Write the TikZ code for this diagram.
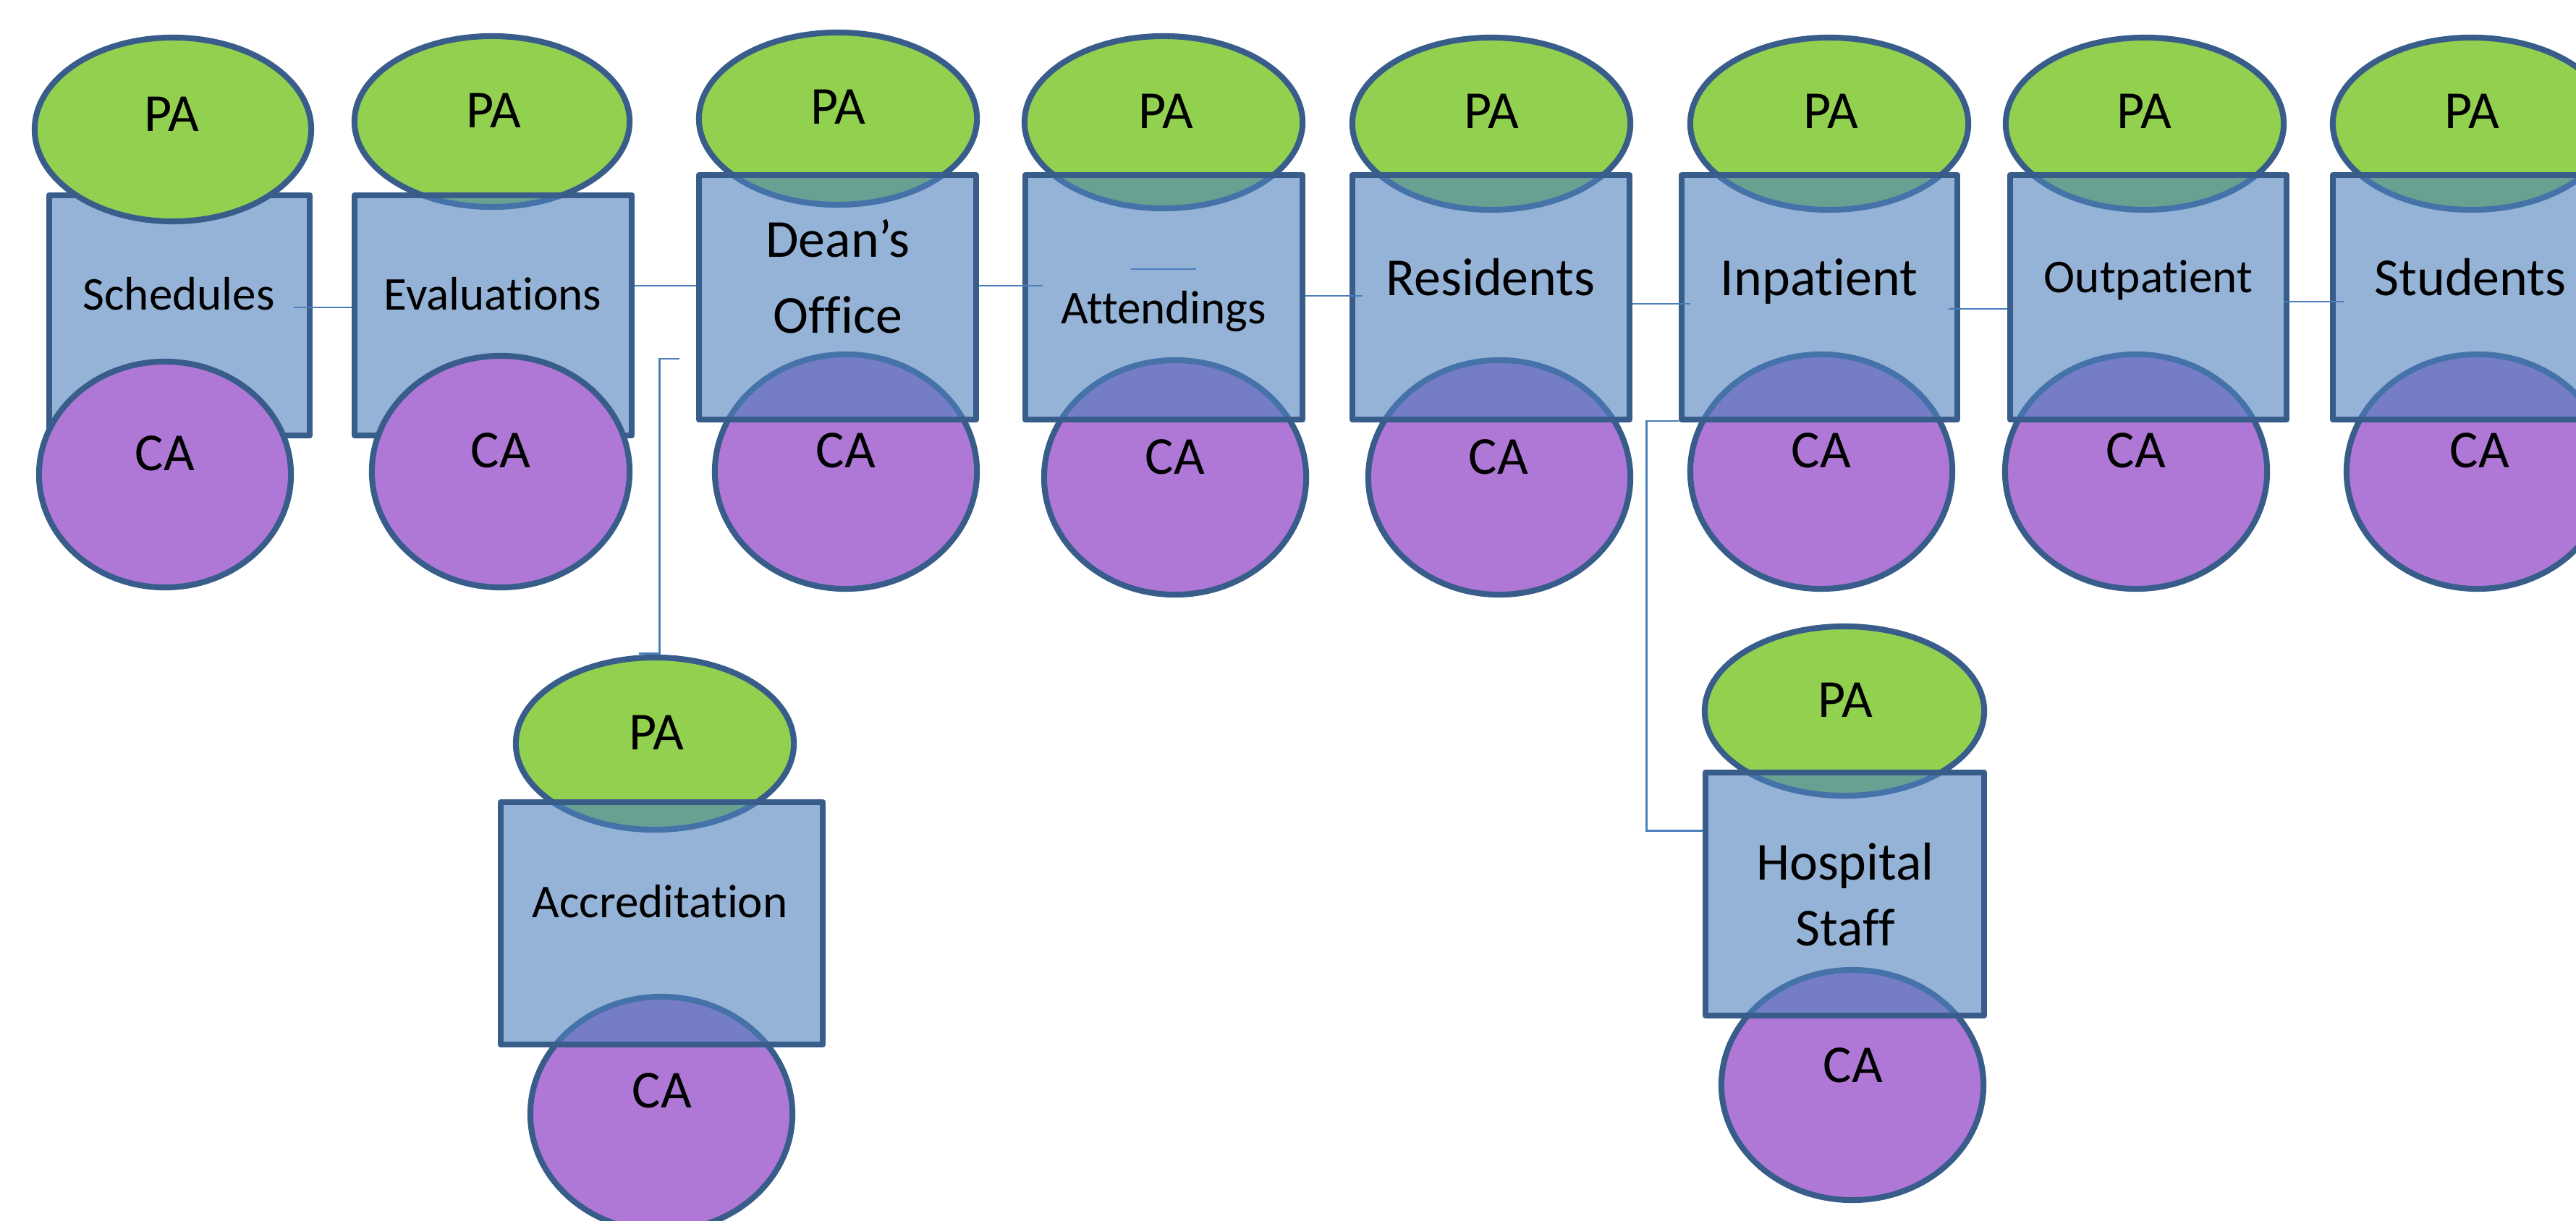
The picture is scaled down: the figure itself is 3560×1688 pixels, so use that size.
\documentclass[tikz,border=0pt]{standalone}
\usepackage{fontspec}
\setmainfont{Carlito}[Ligatures={NoCommon}]
\usetikzlibrary{shapes.geometric}
\definecolor{pagreen}{RGB}{146,208,80}
\definecolor{capurple}{RGB}{175,120,214}
\definecolor{edgeblue}{RGB}{56,93,138}
\definecolor{boxblue}{RGB}{79,129,189}
\definecolor{linkblue}{RGB}{74,126,187}
\begin{document}
\begin{tikzpicture}[x=0.01cm,y=-0.01cm,
  paell/.style={ellipse,draw=edgeblue,fill=pagreen,line width=2.3pt,inner sep=0pt,minimum width=3.84cm,minimum height=2.38cm},
  caell/.style={ellipse,draw=edgeblue,fill=capurple,line width=2.3pt,inner sep=0pt,minimum width=3.62cm,minimum height=3.24cm},
  boxnode/.style={rectangle,draw=edgeblue,fill=boxblue,fill opacity=0.6,draw opacity=1,line width=2.3pt,line join=round,inner sep=0pt,minimum width=3.83cm,minimum height=3.38cm},
  bigtxt/.style={font=\fontsize{21}{25}\selectfont,anchor=base,inner sep=0pt},
  smalltxt/.style={font=\fontsize{18.5}{22}\selectfont,anchor=base,inner sep=0pt},
  conn/.style={draw=linkblue,line width=0.85pt}]
\useasboundingbox (0,0) rectangle (3560,1688);
% Schedules: box under both ellipses
\node[boxnode,minimum width=3.60cm,minimum height=3.32cm] (b1) at (248,436) {};
\node[paell,minimum width=3.82cm,minimum height=2.54cm] (pa1) at (239,179) {};
\node[caell,minimum width=3.48cm,minimum height=3.12cm] (ca1) at (228,656) {};
% Evaluations: box over PA, under CA
\node[paell,minimum width=3.80cm,minimum height=2.36cm] (pa2) at (680,168) {};
\node[boxnode,minimum height=3.32cm] (b2) at (681.5,436) {};
\node[caell,minimum width=3.56cm,minimum height=3.20cm] (ca2) at (692,652) {};
% other ellipses
\node[paell] (pa3) at (1158,164) {};
\node[caell] (ca3) at (1169,652) {};
\node[paell] (pa4) at (1608,169) {};
\node[caell] (ca4) at (1624,660) {};
\node[paell] (pa5) at (2061,171) {};
\node[caell] (ca5) at (2072,660) {};
\node[paell] (pa6) at (2528,171) {};
\node[caell] (ca6) at (2517,652) {};
\node[paell] (pa7) at (2964,171) {};
\node[caell] (ca7) at (2952,652) {};
\node[paell] (pa8) at (3416,171) {};
\node[caell] (ca8) at (3424,652) {};
\node[paell] (pa9) at (905,1028) {};
\node[caell] (ca9) at (914,1540) {};
\node[paell,minimum width=3.86cm,minimum height=2.34cm] (pa10) at (2549,983) {};
\node[caell,minimum height=3.18cm] (ca10) at (2560,1500) {};
% boxes over ellipses
\node[boxnode] (b3) at (1157.5,411) {};
\node[boxnode] (b4) at (1608.5,411) {};
\node[boxnode] (b5) at (2060.5,411) {};
\node[boxnode,minimum width=3.81cm] (b6) at (2514.5,411) {};
\node[boxnode,minimum width=3.82cm] (b7) at (2969,411) {};
\node[boxnode,minimum width=3.82cm] (b8) at (3415,411) {};
\node[boxnode,minimum width=4.45cm,minimum height=3.35cm] (b9) at (914.5,1276.5) {};
\node[boxnode,minimum width=3.85cm,minimum height=3.36cm] (b10) at (2549.5,1236) {};
% PA / CA labels
\node[bigtxt] (tpa1) at (237,182) {PA};
\node[bigtxt] (tpa2) at (682,176) {PA};
\node[bigtxt] (tpa3) at (1158,172) {PA};
\node[bigtxt] (tpa4) at (1611,178) {PA};
\node[bigtxt] (tpa5) at (2061,178) {PA};
\node[bigtxt] (tpa6) at (2530,178) {PA};
\node[bigtxt] (tpa7) at (2963,178) {PA};
\node[bigtxt] (tpa8) at (3416,178) {PA};
\node[bigtxt] (tpa9) at (907,1036) {PA};
\node[bigtxt] (tpa10) at (2550,991) {PA};
\node[bigtxt] (tca1) at (228,650) {CA};
\node[bigtxt] (tca2) at (692,646) {CA};
\node[bigtxt] (tca3) at (1169,646) {CA};
\node[bigtxt] (tca4) at (1624,655) {CA};
\node[bigtxt] (tca5) at (2071,655) {CA};
\node[bigtxt] (tca6) at (2517,646) {CA};
\node[bigtxt] (tca7) at (2952,646) {CA};
\node[bigtxt] (tca8) at (3427,646) {CA};
\node[bigtxt] (tca9) at (915,1531) {CA};
\node[bigtxt] (tca10) at (2561,1496) {CA};
% box labels
\node[smalltxt] (tb1) at (247,428) {Schedules};
\node[smalltxt] (tb2) at (681,428) {Evaluations};
\node[bigtxt] (tb3a) at (1158,355) {Dean’s};
\node[bigtxt] (tb3b) at (1158,460) {Office};
\node[smalltxt] (tb4) at (1608,447) {Attendings};
\node[bigtxt] (tb5) at (2060,408) {Residents};
\node[bigtxt] (tb6) at (2514,408) {Inpatient};
\node[smalltxt] (tb7) at (2969,404) {Outpatient};
\node[bigtxt] (tb8) at (3414,408) {Students};
\node[smalltxt] (tb9) at (912,1268) {Accreditation};
\node[bigtxt] (tb10a) at (2550,1216) {Hospital};
\node[bigtxt] (tb10b) at (2550,1307) {Staff};
% connectors
\coordinate (c1a) at (406,425);
\draw[conn] (c1a) -- (c1a -| b2.west);
\coordinate (c2a) at (0,395);
\draw[conn] (c2a -| b2.east) -- (c2a -| b3.west);
\coordinate (c3b) at (1441,395);
\draw[conn] (c3b -| b3.east) -- (c3b);
\coordinate (c4a) at (1563,372);
\coordinate (c4b) at (1653,372);
\draw[conn] (c4a) -- (c4b);
\coordinate (c5b) at (1883,409);
\draw[conn] (c5b -| b4.east) -- (c5b);
\coordinate (c6b) at (2336,420);
\draw[conn] (c6b -| b5.east) -- (c6b);
\coordinate (c7a) at (2693,427);
\draw[conn] (c7a) -- (c7a -| b7.west);
\coordinate (c8a) at (3156,417);
\coordinate (c8b) at (3239,417);
\draw[conn] (c8a) -- (c8b);
\coordinate (c9a) at (939,496);
\coordinate (c9b) at (883,903);
\draw[conn] (c9a) -- ++(-28,0) |- (c9b);
\coordinate (c10a) at (0,582);
\coordinate (c10c) at (0,1148);
\draw[conn] (c10a -| b6.west) -- (2275,582) |- (c10c -| b10.west);
\end{tikzpicture}
\end{document}
